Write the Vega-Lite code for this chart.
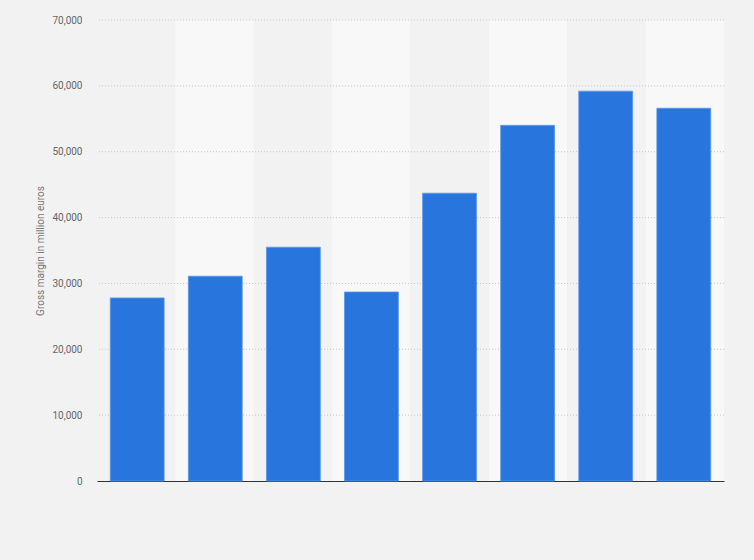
{
  "$schema": "https://vega.github.io/schema/vega-lite/v6.json",
  "width": 627,
  "height": 461,
  "autosize": "none",
  "padding": {"left": 97, "top": 20, "right": 30, "bottom": 79},
  "background": "#f2f2f2",
  "config": {"view": {"stroke": null}, "font": "Roboto"},
  "datasets": {
    "bars": [
      {"year": "2012", "margin": 27800},
      {"year": "2013", "margin": 31100},
      {"year": "2014", "margin": 35500},
      {"year": "2015", "margin": 28700},
      {"year": "2016", "margin": 43700},
      {"year": "2017", "margin": 54000},
      {"year": "2018", "margin": 59200},
      {"year": "2019", "margin": 56600}
    ],
    "grid": [
      {"v": 10000}, {"v": 20000}, {"v": 30000}, {"v": 40000}, {"v": 50000}, {"v": 60000}, {"v": 70000}
    ]
  },
  "layer": [
    {
      "data": {"name": "bars"},
      "transform": [{"window": [{"op": "row_number", "as": "idx"}]}],
      "mark": {"type": "bar"},
      "encoding": {
        "x": {"field": "year", "type": "nominal", "scale": {"paddingInner": 0, "paddingOuter": 0}, "axis": null},
        "color": {"condition": {"test": "datum.idx % 2 === 0", "value": "#f8f8f8"}, "value": "#f2f2f2"}
      }
    },
    {
      "data": {"name": "grid"},
      "mark": {"type": "rule", "color": "#c8c8c8", "strokeDash": [1, 2], "strokeWidth": 1},
      "encoding": {
        "y": {"field": "v", "type": "quantitative"}
      }
    },
    {
      "data": {"name": "bars"},
      "mark": {"type": "bar", "color": "#2876dd", "stroke": "#5b97e6", "strokeWidth": 0.8},
      "encoding": {
        "x": {"field": "year", "type": "nominal", "scale": {"paddingInner": 0.31, "paddingOuter": 0.17},
          "axis": {"title": null, "labels": false, "ticks": false, "domain": true, "domainColor": "#333333", "domainWidth": 1.2}},
        "y": {"field": "margin", "type": "quantitative", "scale": {"domain": [0, 70000]},
          "axis": {"title": "Gross margin in million euros", "titleFontSize": 10, "titleFontWeight": "normal", "titleColor": "#777777", "titlePadding": 6,
            "values": [0, 10000, 20000, 30000, 40000, 50000, 60000, 70000], "format": ",.0f",
            "labelColor": "#666666", "labelFontSize": 10, "labelPadding": 15, "ticks": false, "domain": false,
            "grid": false}}
      }
    }
  ],
  "resolve": {"scale": {"x": "independent"}}
}
